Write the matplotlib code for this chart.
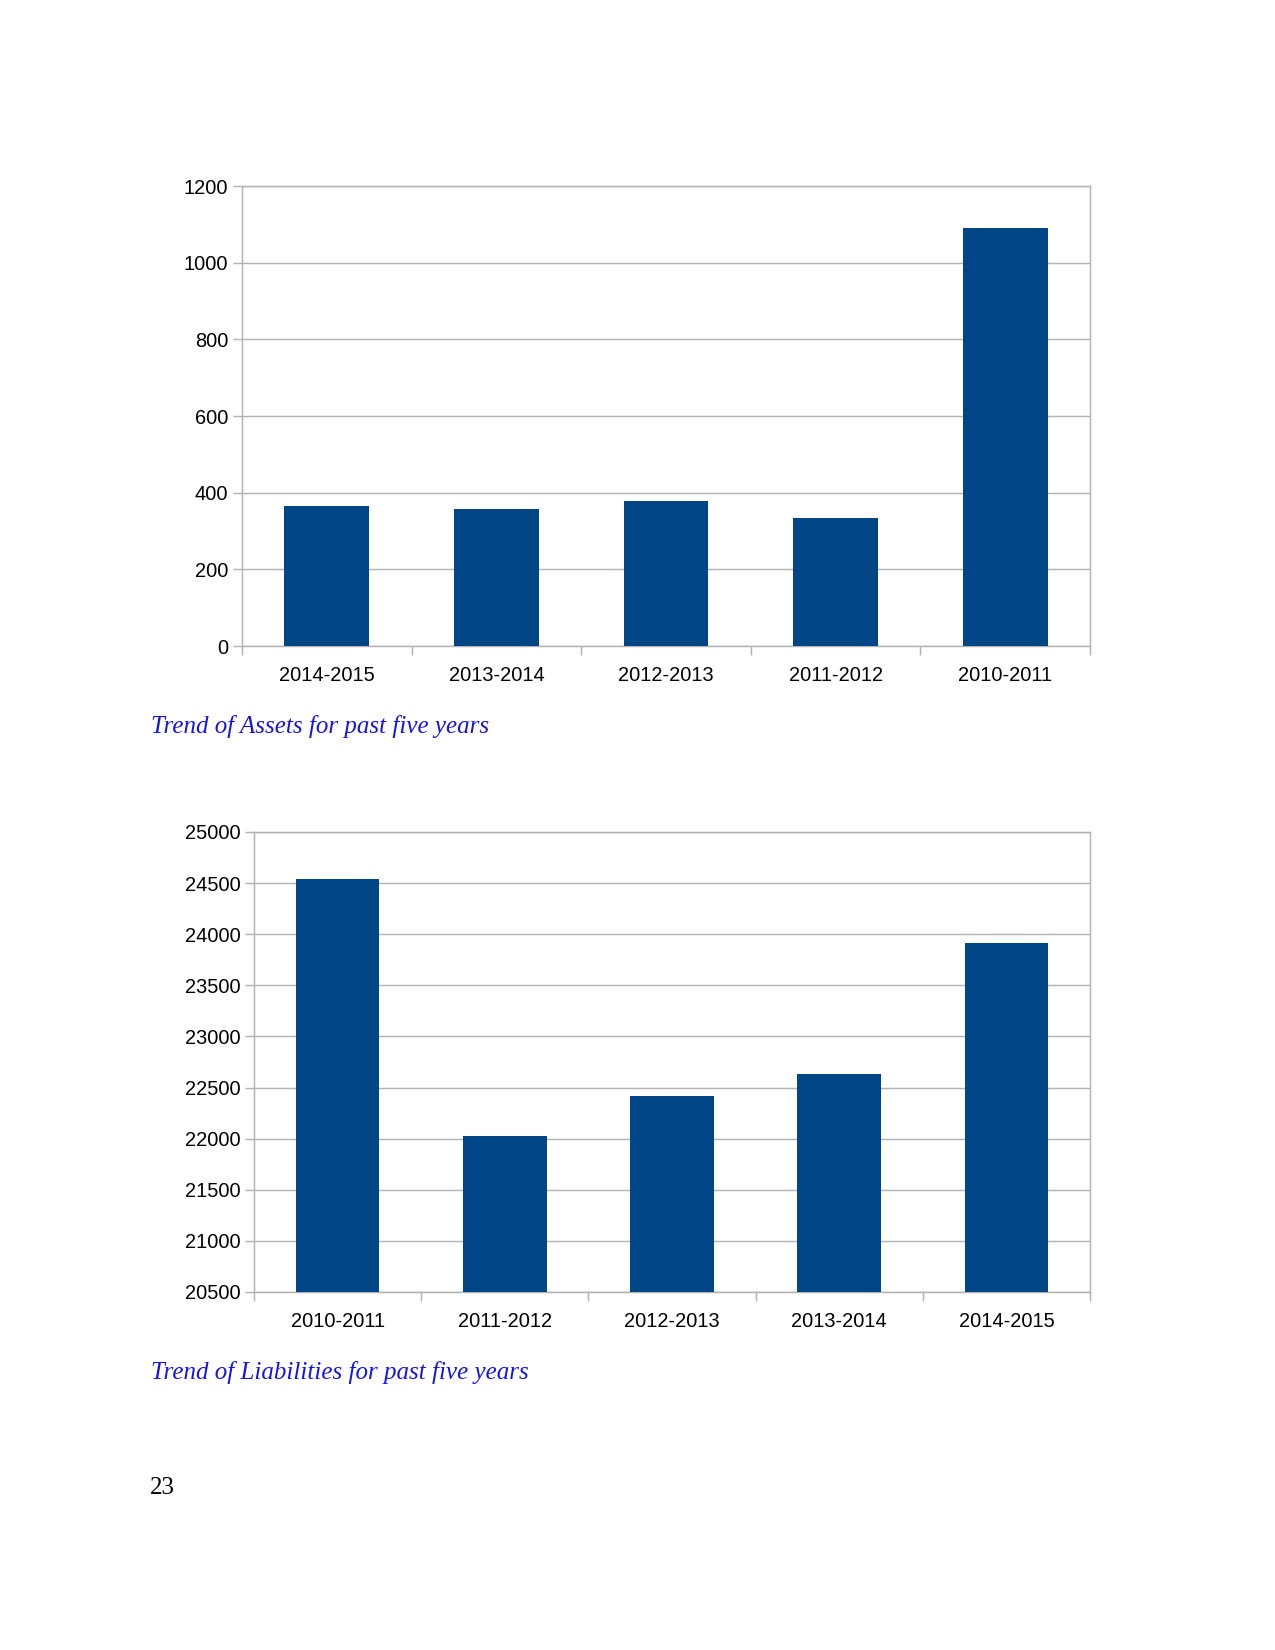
import matplotlib
matplotlib.use('Agg')
import matplotlib.pyplot as plt
import numpy as np

# data
asset_years = ['2014-2015', '2013-2014', '2012-2013', '2011-2012', '2010-2011']
asset_values = [365, 358, 378, 333, 1090]
asset_ticks = [0, 200, 400, 600, 800, 1000, 1200]

liab_years = ['2010-2011', '2011-2012', '2012-2013', '2013-2014', '2014-2015']
liab_values = [24545, 22030, 22420, 22635, 23915]
liab_ticks = [20500, 21000, 21500, 22000, 22500, 23000, 23500, 24000, 24500, 25000]

W, H = 1275, 1650
DPI = 150
bar_color = '#004586'
grid_color = '#b3b3b3'

plt.rcParams['font.family'] = ['Liberation Sans', 'DejaVu Sans']

fig = plt.figure(figsize=(W / DPI, H / DPI), dpi=DPI)


def box(left, top, right, bottom):
    return [left / W, 1 - bottom / H, (right - left) / W, (bottom - top) / H]


def bar_chart(ax, cats, vals, ticks):
    x = np.arange(len(cats))
    ax.bar(x, vals, width=0.5, color=bar_color, zorder=3)
    ax.set_xlim(-0.5, len(cats) - 0.5)
    ax.set_ylim(ticks[0], ticks[-1])
    ax.set_yticks(ticks)
    ax.set_yticklabels([str(t) for t in ticks])
    # ticks on category boundaries, labels in the middle
    ax.set_xticks(np.arange(len(cats) + 1) - 0.5)
    ax.set_xticklabels([])
    ax.set_xticks(x, minor=True)
    ax.set_xticklabels(cats, minor=True)
    ax.tick_params(axis='x', which='major', length=4.5, color=grid_color, width=0.7)
    ax.tick_params(axis='x', which='minor', length=0, pad=9.5, labelsize=9.6)
    ax.tick_params(axis='y', length=4.5, color=grid_color, width=0.7, pad=2, labelsize=9.6)
    ax.yaxis.grid(True, color=grid_color, linewidth=0.7, zorder=0)
    for s in ax.spines.values():
        s.set_color(grid_color)
        s.set_linewidth(0.7)


ax1 = fig.add_axes(box(242, 186, 1090, 646))
bar_chart(ax1, asset_years, asset_values, asset_ticks)

ax2 = fig.add_axes(box(254, 832, 1090, 1292))
bar_chart(ax2, liab_years, liab_values, liab_ticks)

cap_font = dict(family=['Liberation Serif', 'DejaVu Serif'], size=12)
fig.text(151 / W, 1 - 733 / H, 'Trend of Assets for past five years',
         color='#1414e6', style='italic', va='baseline', **cap_font)
fig.text(151 / W, 1 - 1379 / H, 'Trend of Liabilities for past five years',
         color='#1414e6', style='italic', va='baseline', **cap_font)
fig.text(150 / W, 1 - 1494 / H, '23', color='black', va='baseline', **cap_font)

fig.savefig('out.png', dpi=DPI)
